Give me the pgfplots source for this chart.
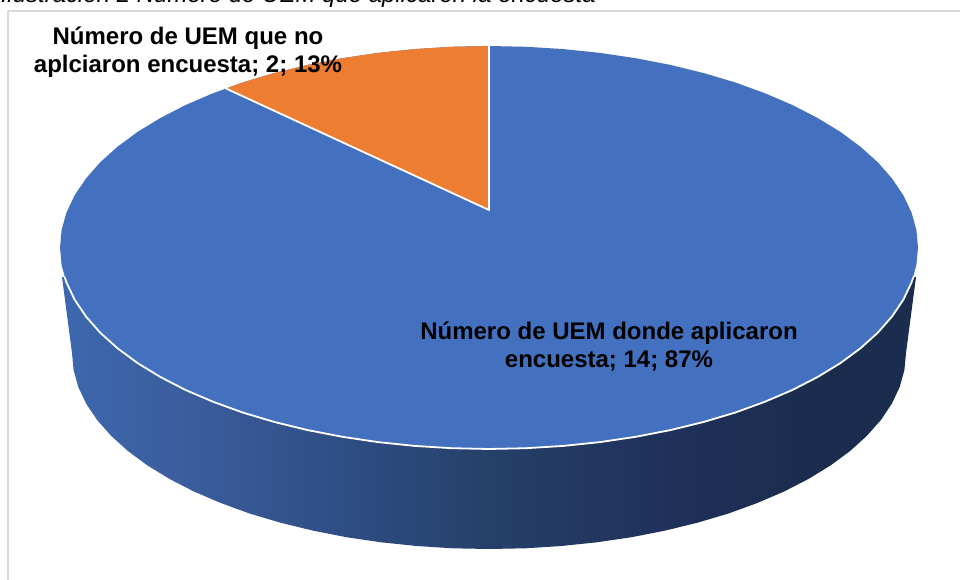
\documentclass[border=0pt]{standalone}
\usepackage{pgfplots}
\pgfplotsset{compat=1.18}
\usepackage{fontspec}
\setmainfont{Liberation Sans}
\definecolor{pieblue}{HTML}{4371C0}
\definecolor{pieorange}{HTML}{EC7D31}
\definecolor{frame}{HTML}{D9D9D9}
\definecolor{wa}{HTML}{3D68AF}
\definecolor{wb}{HTML}{3A5C9B}
\definecolor{wc}{HTML}{2C4A7E}
\definecolor{wd}{HTML}{264069}
\definecolor{we}{HTML}{1F3059}
\definecolor{wf}{HTML}{1B2D4F}
\pgfdeclarehorizontalshading{wallshade}{100bp}{
 color(0bp)=(wa);
 color(25bp)=(wa);
 color(33bp)=(wb);
 color(43.5bp)=(wc);
 color(50bp)=(wd);
 color(61bp)=(we);
 color(68bp)=(wf);
 color(75bp)=(wf);
 color(100bp)=(wf)}
\begin{document}
\begin{tikzpicture}
\useasboundingbox (0,0) rectangle (960pt,580pt);
\begin{axis}[at={(0,0)},anchor=south west,scale only axis,width=960pt,height=580pt,
 xmin=0,xmax=960,ymin=0,ymax=580,y dir=reverse,hide axis,clip=false]
% frame
\addplot[frame,line width=2.2pt,forget plot] coordinates {(8,580) (8,11) (960,11)};
% side wall
\addplot[draw=none,shading=wallshade,forget plot] coordinates {
(62,277)(72,353)(73.6,370.1)(78.3,387)(86.2,403.7)(97.1,420)(111.1,435.8)(127.9,451)(147.4,465.4)(169.6,479)(194.1,491.6)(221,503.1)(249.8,513.6)(280.5,522.7)(312.8,530.6)(346.4,537.2)(381.1,542.3)(416.6,546)(452.6,548.3)(489,549)(525.4,548.3)(561.4,546)(596.9,542.3)(631.6,537.2)(665.2,530.6)(697.5,522.7)(728.2,513.6)(757,503.1)(783.9,491.6)(808.4,479)(830.6,465.4)(850.1,451)(866.9,435.8)(880.9,420)(891.8,403.7)(899.7,387)(904.4,370.1)(906,353)(916,277)} --cycle;
% top face
\addplot[draw=none,fill=pieblue,forget plot] coordinates {
(918,247.5)(916.4,265.1)(911.5,282.5)(903.4,299.6)(892.1,316.4)(877.8,332.7)(860.5,348.25)(840.4,363.1)(817.6,377)(792.4,390)(764.8,401.8)(735.1,412.6)(703.5,422)(670.3,430.1)(635.7,436.8)(600,442.1)(563.5,445.9)(526.4,448.2)(489,449)(451.6,448.2)(414.5,445.9)(378,442.1)(342.3,436.8)(307.7,430.1)(274.5,422)(242.9,412.6)(213.2,401.8)(185.6,390)(160.4,377)(137.6,363.1)(117.5,348.25)(100.2,332.7)(85.9,316.4)(74.6,299.6)(66.5,282.5)(61.6,265.1)(60,247.5)(61.6,229.9)(66.5,212.5)(74.6,195.4)(85.9,178.6)(100.2,162.3)(117.5,146.75)(137.6,131.9)(160.4,118)(185.6,105)(213.2,93.2)(242.9,82.4)(274.5,73)(307.7,64.9)(342.3,58.2)(378,52.9)(414.5,49.1)(451.6,46.8)(489,46)(526.4,46.8)(563.5,49.1)(600,52.9)(635.7,58.2)(670.3,64.9)(703.5,73)(735.1,82.4)(764.8,93.2)(792.4,105)(817.6,118)(840.4,131.9)(860.5,146.75)(877.8,162.3)(892.1,178.6)(903.4,195.4)(911.5,212.5)(916.4,229.9)} --cycle;
% orange slice
\addplot[draw=none,fill=pieorange,forget plot] coordinates {
(489,210)(226,88.5)(242.9,82.4)(274.5,73)(307.7,64.9)(342.3,58.2)(378,52.9)(414.5,49.1)(451.6,46.8)(489,46)} --cycle;
% white separators
\addplot[white,line width=1.8pt,line join=round,forget plot] coordinates {(226,88.5)(489,210)(489,46)};
\addplot[white,line width=1.8pt,line join=round,forget plot] coordinates {
(64.6,277)(66.5,282.5)(74.6,299.6)(85.9,316.4)(100.2,332.7)(117.5,348.25)(137.6,363.1)(160.4,377)(185.6,390)(213.2,401.8)(242.9,412.6)(274.5,422)(307.7,430.1)(342.3,436.8)(378,442.1)(414.5,445.9)(451.6,448.2)(489,449)(526.4,448.2)(563.5,445.9)(600,442.1)(635.7,436.8)(670.3,430.1)(703.5,422)(735.1,412.6)(764.8,401.8)(792.4,390)(817.6,377)(840.4,363.1)(860.5,348.25)(877.8,332.7)(892.1,316.4)(903.4,299.6)(911.5,282.5)(913.4,277)};
% labels
\node[overlay,anchor=base east,inner sep=0pt,font=\fontsize{24}{28}\selectfont\itshape] at (axis cs:596,3) {Ilustración 2 Número de UEM que aplicaron la encuesta};
\node[anchor=base,inner sep=0pt,font=\fontsize{24}{28.5}\selectfont\bfseries,align=center] at (axis cs:188,72.7) {Número de UEM que no\\aplciaron encuesta; 2; 13\%};
\node[anchor=base,inner sep=0pt,font=\fontsize{24}{28.5}\selectfont\bfseries,align=center] at (axis cs:609,367.7) {Número de UEM donde aplicaron\\encuesta; 14; 87\%};
\end{axis}
\end{tikzpicture}
\end{document}
